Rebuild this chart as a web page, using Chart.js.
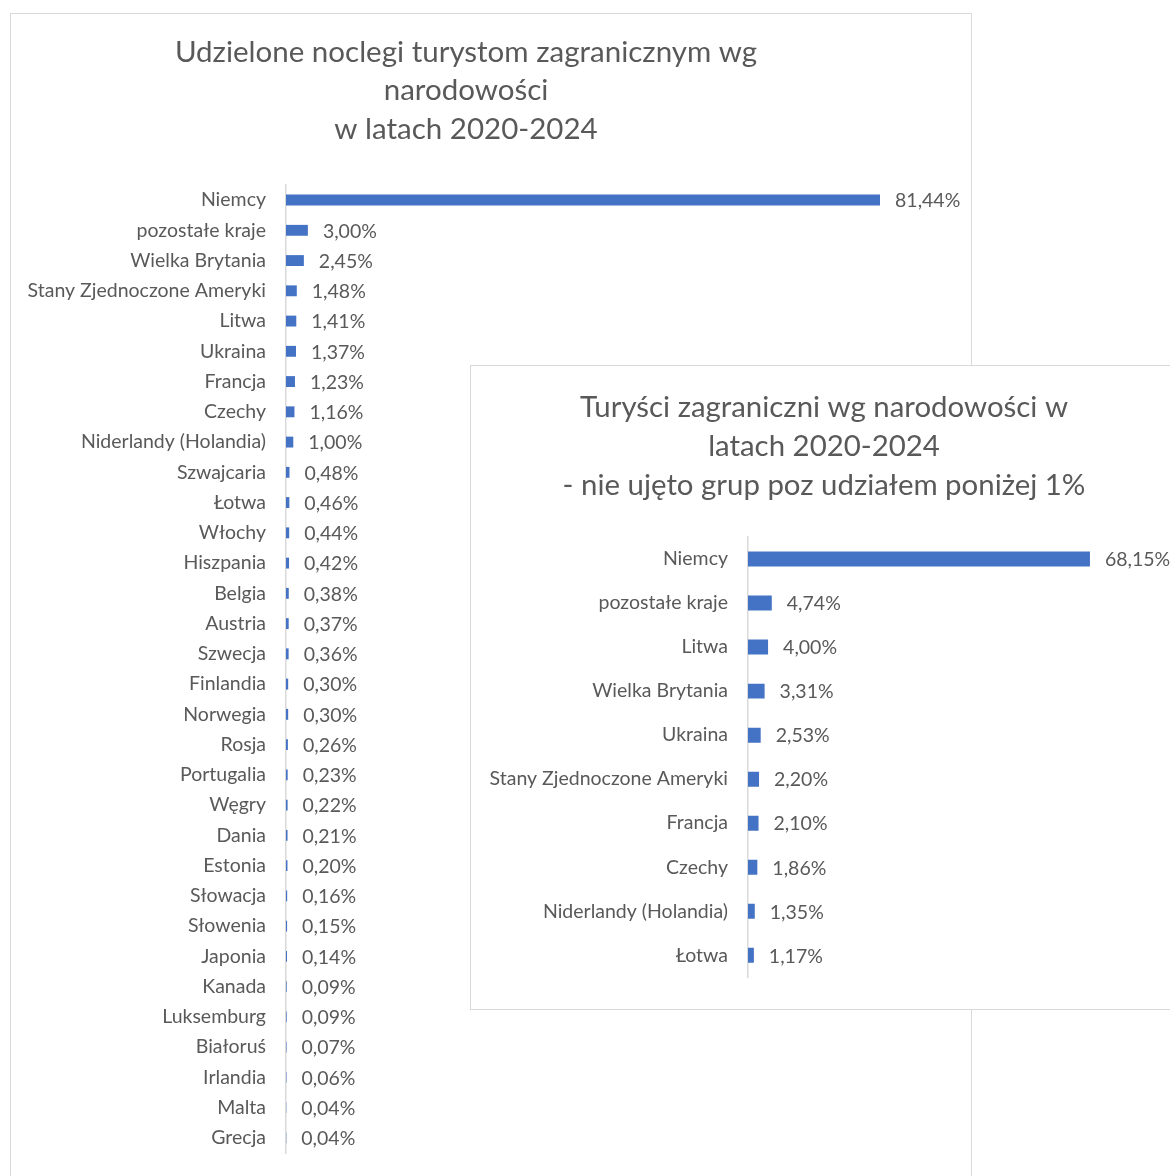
<!DOCTYPE html>
<html lang="pl">
<head>
    <meta charset="UTF-8">
    <title>Turyści zagraniczni</title>
    <script src="https://cdn.jsdelivr.net/npm/chart.js"></script>
</head>
<style>
    body{
        margin: 0;
        width: 1170px;
        height: 1176px;
        overflow: hidden;
        position: relative;
        background: #fff;
    }
    .mainBox{
        position: absolute;
        left: 10px;
        top: 13px;
        width: 960px;
        height: 1180px;
        border: 1px solid #d9d9d9;
        background: #fff;
    }
    .insetBox{
        position: absolute;
        left: 470px;
        top: 365px;
        width: 706px;
        height: 643px;
        border: 1px solid #d9d9d9;
        background: #fff;
        z-index: 2;
    }
    .mainBox canvas, .insetBox canvas{
        display: block;
    }
</style>
<body>
<div class="mainBox">
    <canvas id="mainChart" width="960" height="1180"></canvas>
</div>
<div class="insetBox">
    <canvas id="insetChart" width="706" height="643"></canvas>
</div>
<script>
    // noclegi - wszystkie kraje
    const mainLabels = ['Niemcy', 'pozostałe kraje', 'Wielka Brytania', 'Stany Zjednoczone Ameryki', 'Litwa',
        'Ukraina', 'Francja', 'Czechy', 'Niderlandy (Holandia)', 'Szwajcaria', 'Łotwa', 'Włochy', 'Hiszpania',
        'Belgia', 'Austria', 'Szwecja', 'Finlandia', 'Norwegia', 'Rosja', 'Portugalia', 'Węgry', 'Dania',
        'Estonia', 'Słowacja', 'Słowenia', 'Japonia', 'Kanada', 'Luksemburg', 'Białoruś', 'Irlandia',
        'Malta', 'Grecja'];
    const mainValues = [81.44, 3.00, 2.45, 1.48, 1.41, 1.37, 1.23, 1.16, 1.00, 0.48, 0.46, 0.44, 0.42,
        0.38, 0.37, 0.36, 0.30, 0.30, 0.26, 0.23, 0.22, 0.21, 0.20, 0.16, 0.15, 0.14, 0.09, 0.09, 0.07,
        0.06, 0.04, 0.04];

    // turyści - grupy powyżej 1%
    const insetLabels = ['Niemcy', 'pozostałe kraje', 'Litwa', 'Wielka Brytania', 'Ukraina',
        'Stany Zjednoczone Ameryki', 'Francja', 'Czechy', 'Niderlandy (Holandia)', 'Łotwa'];
    const insetValues = [68.15, 4.74, 4.00, 3.31, 2.53, 2.20, 2.10, 1.86, 1.35, 1.17];

    const gray = '#595959';
    const blue = '#4472C4';
    const fontName = 'Lato, Carlito, "Liberation Sans", sans-serif';

    const valueLabels = {
        id: 'valueLabels',
        afterDatasetsDraw(chart, args, opts) {
            const ctx = chart.ctx;
            const meta = chart.getDatasetMeta(0);
            ctx.save();
            ctx.font = opts.size + 'px ' + fontName;
            ctx.fillStyle = gray;
            ctx.textAlign = 'left';
            ctx.textBaseline = 'middle';
            meta.data.forEach((bar, i) => {
                let v = chart.data.datasets[0].data[i];
                let txt = v.toFixed(2).replace('.', ',') + '%';
                ctx.fillText(txt, bar.x + opts.gap, bar.y + 1);
            });
            ctx.restore();
        }
    };

    function makeChart(id, labels, values, o) {
        return new Chart(document.getElementById(id), {
            type: 'bar',
            plugins: [valueLabels],
            data: {
                labels: labels,
                datasets: [{
                    data: values,
                    backgroundColor: blue,
                    barPercentage: o.bar,
                    categoryPercentage: 1
                }]
            },
            options: {
                indexAxis: 'y',
                responsive: false,
                animation: false,
                layout: {padding: o.pad},
                plugins: {
                    legend: {display: false},
                    tooltip: {enabled: false},
                    title: {
                        display: true,
                        text: o.title,
                        color: gray,
                        font: {family: fontName, size: o.titleSize, weight: 'normal', lineHeight: o.titleLine},
                        padding: o.titlePad
                    },
                    valueLabels: {size: o.labelSize, gap: o.gap}
                },
                scales: {
                    x: {display: false, min: 0, max: o.max},
                    y: {
                        grid: {display: false, drawTicks: false},
                        border: {display: true, color: '#d9d9d9', width: 1.5},
                        ticks: {
                            color: gray,
                            padding: 20,
                            autoSkip: false,
                            font: {family: fontName, size: o.labelSize}
                        },
                        afterFit(scale) {
                            scale.width = o.axisW;
                        }
                    }
                }
            }
        });
    }

    makeChart('mainChart', mainLabels, mainValues, {
        title: ['Udzielone noclegi turystom zagranicznym wg', 'narodowości', 'w latach 2020-2024'],
        titleSize: 29.5, titleLine: 1.31,
        titlePad: {top: 19, bottom: 36},
        pad: {left: 0, right: 50, top: 0, bottom: 41},
        axisW: 275, max: 87.06, bar: 0.36, labelSize: 19.5, gap: 15
    });

    makeChart('insetChart', insetLabels, insetValues, {
        title: ['Turyści zagraniczni wg narodowości w', 'latach 2020-2024', '- nie ujęto grup poz udziałem poniżej 1%'],
        titleSize: 29.4, titleLine: 1.327,
        titlePad: {top: 22, bottom: 32},
        pad: {left: 0, right: 0, top: 0, bottom: 24},
        axisW: 277, max: 85.5, bar: 0.34, labelSize: 19.5, gap: 15
    });
</script>
</body>
</html>
